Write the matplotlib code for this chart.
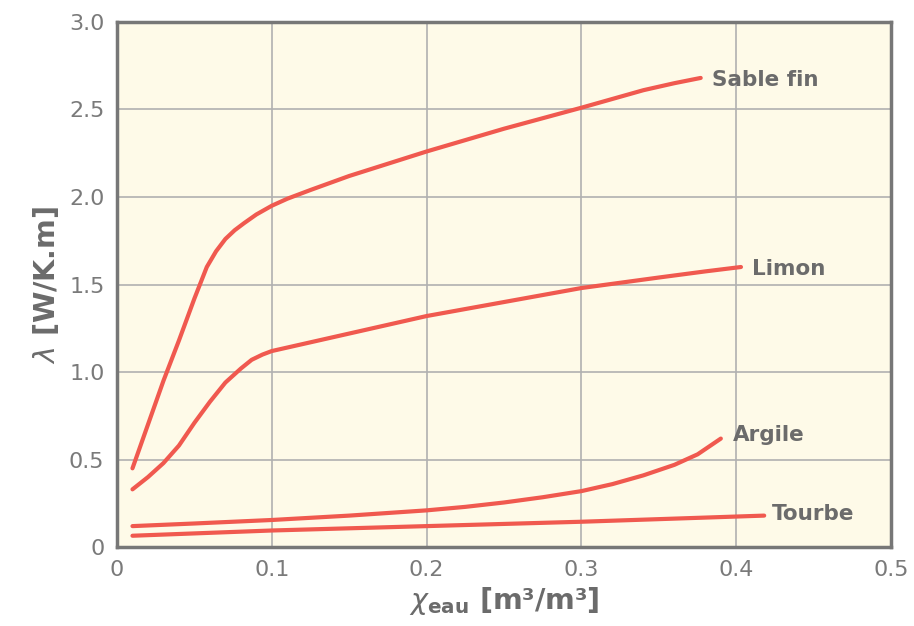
import matplotlib
matplotlib.use('Agg')
import matplotlib.pyplot as plt

# donnees
sable_x = [0.010, 0.020, 0.030, 0.040, 0.050, 0.058, 0.064, 0.070, 0.076, 0.082,
           0.090, 0.100, 0.110, 0.125, 0.150, 0.200, 0.250, 0.300, 0.320, 0.340,
           0.360, 0.377]
sable_y = [0.45, 0.70, 0.95, 1.18, 1.42, 1.60, 1.69, 1.76, 1.81, 1.85,
           1.90, 1.95, 1.99, 2.04, 2.12, 2.26, 2.39, 2.51, 2.56, 2.61,
           2.65, 2.68]

limon_x = [0.010, 0.020, 0.030, 0.040, 0.050, 0.060, 0.070, 0.080, 0.087, 0.094,
           0.100, 0.110, 0.125, 0.150, 0.200, 0.250, 0.300, 0.350, 0.380, 0.403]
limon_y = [0.33, 0.40, 0.48, 0.58, 0.71, 0.83, 0.94, 1.02, 1.07, 1.10,
           1.12, 1.14, 1.17, 1.22, 1.32, 1.40, 1.48, 1.54, 1.575, 1.60]

argile_x = [0.010, 0.050, 0.100, 0.150, 0.200, 0.225, 0.250, 0.275, 0.300, 0.320,
            0.340, 0.360, 0.375, 0.390]
argile_y = [0.12, 0.135, 0.155, 0.18, 0.21, 0.23, 0.255, 0.285, 0.32, 0.36,
            0.41, 0.47, 0.53, 0.62]

tourbe_x = [0.010, 0.100, 0.200, 0.300, 0.418]
tourbe_y = [0.065, 0.095, 0.12, 0.145, 0.18]

noms = ['Sable fin', 'Limon', 'Argile', 'Tourbe']
pos_noms = [(0.384, 2.67), (0.410, 1.59), (0.398, 0.64), (0.423, 0.19)]

rouge = '#f0594f'
gris = '#6b6b6b'

fig = plt.figure(figsize=(9.14, 6.26), dpi=100)
ax = fig.add_axes([0.128, 0.126, 0.847, 0.839])
ax.set_facecolor('#fefae8')

for xs, ys in [(sable_x, sable_y), (limon_x, limon_y), (argile_x, argile_y), (tourbe_x, tourbe_y)]:
    ax.plot(xs, ys, color=rouge, lw=3, solid_capstyle='round', solid_joinstyle='round', zorder=3)

for nom, (px, py) in zip(noms, pos_noms):
    ax.text(px, py, nom, color=gris, fontsize=15.5, fontweight='bold', va='center', ha='left')

ax.set_xlim(0, 0.5)
ax.set_ylim(0, 3.0)
ax.set_xticks([0, 0.1, 0.2, 0.3, 0.4, 0.5])
ax.set_xticklabels(['0', '0.1', '0.2', '0.3', '0.4', '0.5'])
ax.set_yticks([0, 0.5, 1.0, 1.5, 2.0, 2.5, 3.0])
ax.set_yticklabels(['0', '0.5', '1.0', '1.5', '2.0', '2.5', '3.0'])
ax.tick_params(length=0, labelsize=16, labelcolor='#7a7a7a', pad=9)
ax.grid(True, color='#b0b0b0', lw=1.2)
ax.set_axisbelow(True)
for s in ax.spines.values():
    s.set_color('#777777')
    s.set_linewidth(2.5)

ax.set_xlabel(r'$\chi_{\mathbf{eau}}$ [m³/m³]', fontsize=20.5, fontweight='bold', color=gris, labelpad=4)
ax.set_ylabel(r'$\lambda$ [W/K.m]', fontsize=20.5, fontweight='bold', color=gris, labelpad=6)

fig.savefig('out.png', dpi=100)
